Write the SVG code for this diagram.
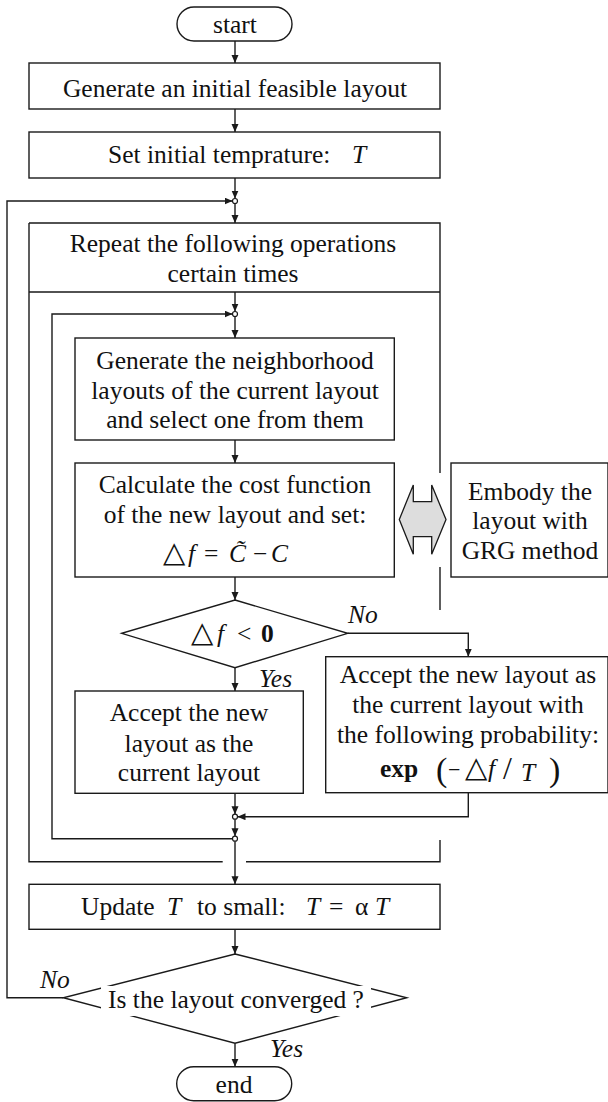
<svg xmlns="http://www.w3.org/2000/svg" width="608" height="1102" viewBox="0 0 608 1102">
<style>
.b{fill:#fff;stroke:#1a1a1a;stroke-width:1.4}
.l{fill:none;stroke:#1a1a1a;stroke-width:1.4}
.c{fill:#fff;stroke:#1a1a1a;stroke-width:1.2}
text{font-family:"Liberation Serif","Times New Roman",serif;font-size:25.5px;fill:#111}
.m{text-anchor:middle}
.i{font-style:italic}
.bd{font-weight:bold}
.d{font-family:"DejaVu Sans",sans-serif;font-size:29px}
</style>
<defs>
<marker id="ah" markerUnits="userSpaceOnUse" markerWidth="9" markerHeight="8" refX="8" refY="3.5" orient="auto">
<path d="M0,0 L8,3.5 L0,7 Z" fill="#1a1a1a"/>
</marker>
</defs>
<rect width="608" height="1102" fill="#fff"/>
<g id="loopframe">
<path class="l" d="M29,223 H440 V473 M440,567 V610 M440,840 V861.7 H246 M222.7,861.7 H29 V223 M29,292 H440"/>
</g>
<g id="connectors">
<path class="l" d="M235,41 V63" marker-end="url(#ah)"/>
<path class="l" d="M235,109 V132" marker-end="url(#ah)"/>
<path class="l" d="M235,178 V198.5" marker-end="url(#ah)"/>
<path class="l" d="M235,203.5 V223" marker-end="url(#ah)"/>
<path class="l" d="M63.3,997.7 H7 V201 H232.5" marker-end="url(#ah)"/>
<path class="l" d="M235,292 V311.5" marker-end="url(#ah)"/>
<path class="l" d="M235,316.5 V338" marker-end="url(#ah)"/>
<path class="l" d="M232.5,838.7 H52 V314 H232.5" marker-end="url(#ah)"/>
<path class="l" d="M235,440 V463" marker-end="url(#ah)"/>
<path class="l" d="M235,577 V600" marker-end="url(#ah)"/>
<path class="l" d="M347.7,633.3 H468.3 V656.7" marker-end="url(#ah)"/>
<path class="l" d="M235,667.7 V691" marker-end="url(#ah)"/>
<path class="l" d="M235,793.3 V814.2" marker-end="url(#ah)"/>
<path class="l" d="M468.3,792.7 V816.7 H237.5" marker-end="url(#ah)"/>
<path class="l" d="M235,819.2 V836.2" marker-end="url(#ah)"/>
<path class="l" d="M235,841.2 V884.3" marker-end="url(#ah)"/>
<path class="l" d="M235,929.3 V954" marker-end="url(#ah)"/>
<path class="l" d="M235,1043.3 V1066.7" marker-end="url(#ah)"/>
<circle class="c" cx="235" cy="201" r="2.5"/>
<circle class="c" cx="235" cy="314" r="2.5"/>
<circle class="c" cx="235" cy="816.7" r="2.5"/>
<circle class="c" cx="235" cy="838.7" r="2.5"/>
<text class="i" x="348" y="623">No</text>
<text class="i" x="259" y="687">Yes</text>
<text class="i" x="40" y="988">No</text>
<text class="i" x="270" y="1057">Yes</text>
</g>
<g id="start">
<rect class="b" x="177" y="7" width="115" height="34" rx="17"/>
<text class="m" x="235" y="33">start</text>
</g>
<g id="init">
<rect class="b" x="29" y="63" width="411" height="46"/>
<text class="m" x="235" y="97">Generate an initial feasible layout</text>
</g>
<g id="settemp">
<rect class="b" x="29" y="132" width="411" height="46"/>
<text x="108" y="163">Set initial temprature:</text>
<text class="i" x="352" y="163">T</text>
</g>
<g id="repeat">
<text class="m" x="233" y="252">Repeat the following operations</text>
<text class="m" x="233" y="282">certain times</text>
</g>
<g id="neighbor">
<rect class="b" x="75" y="338" width="319.3" height="102"/>
<text class="m" x="235" y="369">Generate the neighborhood</text>
<text class="m" x="235" y="398.5">layouts of the current layout</text>
<text class="m" x="235" y="428">and select one from them</text>
</g>
<g id="cost">
<rect class="b" x="75" y="463" width="319.3" height="114"/>
<text class="m" x="235" y="493">Calculate the cost function</text>
<text class="m" x="235" y="523">of the new layout and set:</text>
<text x="163" y="562"><tspan class="d">△</tspan><tspan class="i" x="188">f</tspan><tspan x="204">=</tspan><tspan class="i" x="229">C̃</tspan><tspan x="253">−</tspan><tspan class="i" x="271">C</tspan></text>
</g>
<g id="exchange">
<path d="M413.3,485 V501.7 H431.7 V485 L446,519.5 L431.7,554.3 V536.7 H413.3 V554.3 L399.3,519.5 Z" fill="#ddd" stroke="#1a1a1a" stroke-width="1.3"/>
</g>
<g id="grg">
<rect class="b" x="451" y="463" width="157" height="114"/>
<text class="m" x="530" y="500">Embody the</text>
<text class="m" x="530" y="529">layout with</text>
<text class="m" x="530" y="559">GRG method</text>
</g>
<g id="test">
<polygon class="b" points="235,600 347.7,633.3 235,667.7 121.7,633.3"/>
<text x="191" y="642"><tspan class="d">△</tspan><tspan class="i" x="217">f</tspan><tspan x="237">&lt;</tspan><tspan class="bd" x="261">0</tspan></text>
</g>
<g id="acceptyes">
<rect class="b" x="75" y="691" width="228.3" height="102.3"/>
<text class="m" x="189" y="720.7">Accept the new</text>
<text class="m" x="189" y="751.5">layout as the</text>
<text class="m" x="189" y="781">current layout</text>
</g>
<g id="acceptno">
<rect class="b" x="325.7" y="656.7" width="282.3" height="136"/>
<text class="m" x="468" y="683">Accept the new layout as</text>
<text class="m" x="468" y="713">the current layout with</text>
<text class="m" x="468" y="743">the following probability:</text>
<text x="380" y="777"><tspan class="bd">exp</tspan><tspan x="436" y="781" font-size="34">(</tspan><tspan x="448" y="777" font-size="22">−</tspan><tspan x="465" class="d" font-size="23">△</tspan><tspan class="i" x="488">f</tspan><tspan x="503" y="779" font-size="32">/</tspan><tspan class="i" x="521" y="781">T</tspan><tspan x="549" y="781" font-size="34">)</tspan></text>
</g>
<g id="update">
<rect class="b" x="29" y="884.3" width="411" height="45"/>
<text font-size="24" y="915"><tspan x="81">Update</tspan><tspan class="i" x="167">T</tspan><tspan x="197">to small:</tspan><tspan class="i" x="306">T</tspan><tspan x="329">=</tspan><tspan x="355">α</tspan><tspan class="i" x="375">T</tspan></text>
</g>
<g id="converged">
<polygon class="b" points="235,954 406.7,997.7 235,1043.3 63.3,997.7"/>
<rect x="101" y="986" width="270" height="30" fill="#fff"/>
<text class="m" x="236" y="1008">Is the layout converged ?</text>
</g>
<g id="end">
<rect class="b" x="176.7" y="1066.7" width="115" height="34" rx="17"/>
<text class="m" x="234" y="1093">end</text>
</g>
</svg>
